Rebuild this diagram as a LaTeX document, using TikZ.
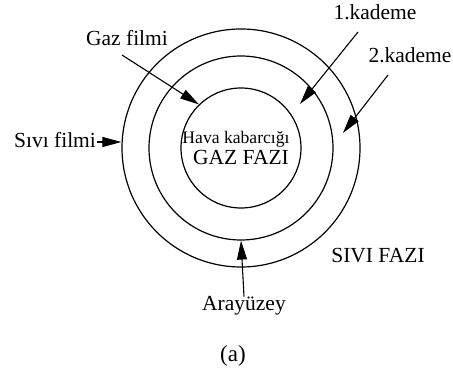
\documentclass[tikz,border=0pt]{standalone}
\usepackage{fontspec}
\setmainfont{Liberation Serif}
\usetikzlibrary{arrows.meta}
\begin{document}
\begin{tikzpicture}[x=1pt,y=-1pt,
  ring/.style={circle,draw,line width=1.2pt,inner sep=0pt},
  lbl/.style={anchor=base,inner sep=0pt,font=\fontsize{21.5}{24}\selectfont},
  arr/.style={line width=1.1pt,-{Triangle[length=19pt,width=10pt]}}]
\useasboundingbox (0,0) rectangle (453,374);
\node[ring,minimum size=120pt] (inner) at (241,148) {};
\node[ring,minimum size=184pt] (middle) at (241,148) {};
\node[ring,minimum size=238pt] (outer) at (241,148) {};
\node[lbl] (k1) at (375,20) {1.kademe};
\node[lbl] (k2) at (410,63) {2.kademe};
\node[lbl] (gf) at (127,46) {Gaz filmi};
\node[lbl] (sf) at (55,148) {Sıvı filmi};
\node[lbl,font=\fontsize{17.6}{20}\selectfont] (hk) at (236,144) {Hava kabarcığı};
\node[lbl] (gfz) at (241,165) {GAZ FAZI};
\node[lbl] (sfz) at (378,263) {SIVI FAZI};
\node[lbl] (ay) at (244,311) {Arayüzey};
\node[lbl,font=\fontsize{23}{26}\selectfont] (a) at (233,362) {(a)};
\coordinate (k1t) at (358,32);
\coordinate (k1h) at (300,104);
\coordinate (k2t) at (388,75);
\coordinate (k2h) at (343,133);
\coordinate (gft) at (122,55);
\coordinate (sft) at (97,142);
\draw[arr] (k1t) -- (k1h);
\draw[arr] (k2t) -- (k2h);
\draw[arr] (gft) -- (inner.134);
\draw[arr] (sft) -- (sft -| outer.west);
\draw[arr] (ay.north) -- (middle.south);
\end{tikzpicture}
\end{document}
